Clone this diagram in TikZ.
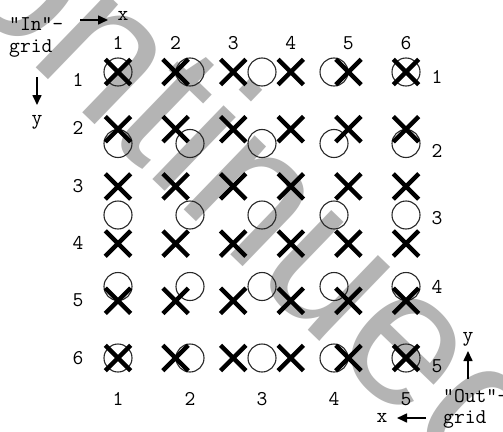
\documentclass[tikz,border=0pt]{standalone}
\usepackage{fontspec}
\setmainfont{Liberation Serif}
\newfontfamily\wmfont{Liberation Sans}
\usetikzlibrary{arrows.meta,shapes.misc}
\definecolor{wmgray}{RGB}{180,180,180}
\definecolor{ringcol}{RGB}{40,40,40}
\begin{document}
\begin{tikzpicture}[x=1pt,y=-1pt,
  lab/.style={font=\ttfamily\fontsize{21}{21}\selectfont, inner sep=0pt},
  xmark/.style={cross out, draw=black, line width=4.4pt, minimum size=21pt, inner sep=0pt},
  omark/.style={circle, draw=ringcol, line width=1.1pt, minimum size=28pt, inner sep=0pt},
  arr/.style={line width=1.6pt, -{Triangle[length=10pt,width=9pt]}},
  wm/.style={font=\wmfont\fontsize{194}{194}\selectfont, text=wmgray, inner sep=0pt, anchor=base west, rotate=-44}]
\clip (0,0) rectangle (503,431);
\fill[white] (0,0) rectangle (503,431);
% watermark
\node[wm] (watermark) at (-151.5,-113.9) {Continued};
% out-grid circles
\foreach \i in {1,...,5} {
  \foreach \j in {1,...,5} {
    \node[omark] (O\i\j) at ({118+72*(\i-1)},{72+71.5*(\j-1)}) {};
  }
}
% in-grid crosses
\foreach \i in {1,...,6} {
  \foreach \j in {1,...,6} {
    \node[xmark] (X\i\j) at ({118+57.6*(\i-1)},{72+57.2*(\j-1)}) {};
  }
}
% top labels (in-grid columns)
\foreach \i in {1,...,6} {
  \node[lab] (tc\i) at ({118+57.6*(\i-1)},43) {\i};
}
% left labels (in-grid rows)
\foreach \i/\y in {1/80,2/128,3/186,4/243,5/300,6/358} {
  \node[lab] (lr\i) at (78,\y) {\i};
}
% right labels (out-grid rows)
\foreach \i/\y in {1/77,2/151,3/218,4/287,5/366} {
  \node[lab] (rr\i) at (437,\y) {\i};
}
% bottom labels (out-grid columns)
\foreach \i in {1,...,5} {
  \node[lab] (bc\i) at ({118+72*(\i-1)},399) {\i};
}
% In-grid legend
\node[lab, anchor=base west] (inname) at (9,30) {“In”-};
\node[lab, anchor=base west] (ingrid) at (9,52) {grid};
\node[lab] (inx) at (123,16) {x};
\node[lab] (iny) at (37,122) {y};
\coordinate (inxa) at (80,20);
\coordinate (inxb) at (108,20);
\coordinate (inya) at (37,77);
\coordinate (inyb) at (37,105);
\draw[arr] (inxa) -- (inxb);
\draw[arr] (inya) -- (inyb);
% Out-grid legend
\node[lab, anchor=base west] (outname) at (443,402) {“Out”-};
\node[lab, anchor=base west] (outgrid) at (443,423) {grid};
\node[lab] (outy) at (468,339) {y};
\node[lab] (outx) at (382,418) {x};
\coordinate (outya) at (468,379);
\coordinate (outyb) at (468,351);
\coordinate (outxa) at (426,418);
\coordinate (outxb) at (397,418);
\draw[arr] (outya) -- (outyb);
\draw[arr] (outxa) -- (outxb);
\end{tikzpicture}
\end{document}
